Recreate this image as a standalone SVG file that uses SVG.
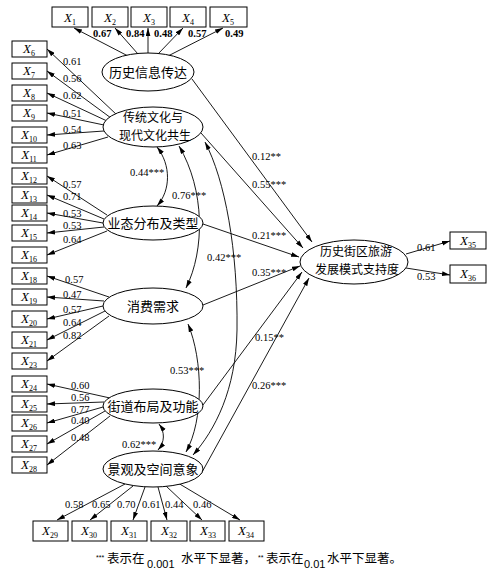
<svg xmlns="http://www.w3.org/2000/svg" width="491" height="571" viewBox="0 0 491 571">
<style>
.bx{fill:#fff;stroke:#000;stroke-width:1}
.el{fill:#fff;stroke:#000;stroke-width:1}
.x{font-family:"Liberation Serif",serif;font-style:italic;font-size:13px;text-anchor:middle}
.sub{font-size:8px;font-style:normal}
.cn{font-family:"Noto Sans CJK SC",sans-serif;font-size:13px;text-anchor:middle}
.cn2{font-family:"Noto Sans CJK SC",sans-serif;font-size:12px;text-anchor:middle}
.n{font-family:"Liberation Serif",serif;font-size:10.5px}
.nb{font-family:"Liberation Serif",serif;font-size:10.5px;font-weight:bold}
.ft{font-family:"Noto Sans CJK SC",sans-serif;font-size:12.5px}
.fn{font-family:"Liberation Sans",sans-serif;font-size:11px}
.st{font-family:"Liberation Sans",sans-serif;font-size:7px}
#conn path,#conn line{fill:none;stroke:#000;stroke-width:0.9}
</style>
<defs>
<marker id="ah" viewBox="0 0 10 6" refX="10" refY="3" markerWidth="8" markerHeight="5" orient="auto-start-reverse" markerUnits="userSpaceOnUse"><path d="M0,0 L10,3 L0,6 z" fill="#000"/></marker>
</defs>
<g id="conn">
<line x1="128" y1="56" x2="74" y2="28" marker-end="url(#ah)"/>
<line x1="138" y1="54" x2="115" y2="28" marker-end="url(#ah)"/>
<line x1="148" y1="53" x2="148" y2="28" marker-end="url(#ah)"/>
<line x1="158" y1="54" x2="183" y2="28" marker-end="url(#ah)"/>
<line x1="168" y1="56" x2="223" y2="28" marker-end="url(#ah)"/>
<line x1="117" y1="115" x2="47" y2="49" marker-end="url(#ah)"/>
<line x1="111" y1="118" x2="47" y2="71" marker-end="url(#ah)"/>
<line x1="107" y1="121" x2="47" y2="93" marker-end="url(#ah)"/>
<line x1="104" y1="125" x2="47" y2="113" marker-end="url(#ah)"/>
<line x1="104" y1="131" x2="47" y2="135" marker-end="url(#ah)"/>
<line x1="108" y1="137" x2="47" y2="155" marker-end="url(#ah)"/>
<line x1="107" y1="215" x2="47" y2="176" marker-end="url(#ah)"/>
<line x1="104" y1="219" x2="47" y2="195" marker-end="url(#ah)"/>
<line x1="103" y1="223" x2="47" y2="213" marker-end="url(#ah)"/>
<line x1="104" y1="227" x2="47" y2="233" marker-end="url(#ah)"/>
<line x1="107" y1="231" x2="47" y2="255" marker-end="url(#ah)"/>
<line x1="109" y1="297" x2="47" y2="276" marker-end="url(#ah)"/>
<line x1="104" y1="301" x2="47" y2="297" marker-end="url(#ah)"/>
<line x1="103" y1="306" x2="47" y2="319" marker-end="url(#ah)"/>
<line x1="105" y1="311" x2="47" y2="340" marker-end="url(#ah)"/>
<line x1="109" y1="316" x2="47" y2="361" marker-end="url(#ah)"/>
<line x1="110" y1="398" x2="47" y2="384" marker-end="url(#ah)"/>
<line x1="104" y1="402" x2="47" y2="404" marker-end="url(#ah)"/>
<line x1="103" y1="407" x2="47" y2="423" marker-end="url(#ah)"/>
<line x1="105" y1="411" x2="47" y2="444" marker-end="url(#ah)"/>
<line x1="110" y1="416" x2="47" y2="465" marker-end="url(#ah)"/>
<line x1="125" y1="484" x2="57" y2="520" marker-end="url(#ah)"/>
<line x1="133" y1="486" x2="90" y2="520" marker-end="url(#ah)"/>
<line x1="145" y1="487" x2="133" y2="520" marker-end="url(#ah)"/>
<line x1="158" y1="487" x2="167" y2="520" marker-end="url(#ah)"/>
<line x1="166" y1="486" x2="202" y2="520" marker-end="url(#ah)"/>
<line x1="178" y1="483" x2="240" y2="520" marker-end="url(#ah)"/>
<line x1="406" y1="254" x2="450" y2="241" marker-end="url(#ah)"/>
<line x1="406" y1="268" x2="450" y2="275" marker-end="url(#ah)"/>
<line x1="192" y1="79" x2="312" y2="242" marker-end="url(#ah)"/>
<line x1="201" y1="133" x2="303" y2="248" marker-end="url(#ah)"/>
<line x1="203" y1="224" x2="299" y2="257" marker-end="url(#ah)"/>
<line x1="203" y1="305" x2="300" y2="266" marker-end="url(#ah)"/>
<line x1="203" y1="405" x2="302" y2="272" marker-end="url(#ah)"/>
<line x1="201" y1="474" x2="309" y2="278" marker-end="url(#ah)"/>
<path d="M157,147 C171,165 171,190 157,206" marker-start="url(#ah)" marker-end="url(#ah)"/>
<path d="M179,146 C205,190 205,250 186,288" marker-start="url(#ah)" marker-end="url(#ah)"/>
<path d="M205,142 C225,180 238,250 237,330 C236,390 215,430 193,455" marker-start="url(#ah)" marker-end="url(#ah)"/>
<path d="M188,324 C203,360 204,420 186,452" marker-start="url(#ah)" marker-end="url(#ah)"/>
<path d="M159,424 C165,432 165,442 158,450" marker-start="url(#ah)" marker-end="url(#ah)"/>
</g>
<g id="labels">
<text class="nb" x="93" y="37">0.67</text>
<text class="nb" x="126" y="37">0.84</text>
<text class="nb" x="154" y="37">0.48</text>
<text class="nb" x="188" y="37">0.57</text>
<text class="nb" x="225" y="37">0.49</text>
<text class="n" x="63" y="65">0.61</text>
<text class="n" x="63" y="82">0.56</text>
<text class="n" x="63" y="99">0.62</text>
<text class="n" x="63" y="117">0.51</text>
<text class="n" x="63" y="133">0.54</text>
<text class="n" x="63" y="149">0.63</text>
<text class="n" x="63" y="188">0.57</text>
<text class="n" x="63" y="200">0.71</text>
<text class="n" x="63" y="217">0.53</text>
<text class="n" x="63" y="229">0.53</text>
<text class="n" x="63" y="243">0.64</text>
<text class="n" x="65" y="283">0.57</text>
<text class="n" x="63" y="298">0.47</text>
<text class="n" x="63" y="313">0.57</text>
<text class="n" x="63" y="326">0.64</text>
<text class="n" x="63" y="339">0.82</text>
<text class="n" x="71" y="389">0.60</text>
<text class="n" x="71" y="401">0.56</text>
<text class="n" x="71" y="413">0.77</text>
<text class="n" x="71" y="424">0.40</text>
<text class="n" x="71" y="441">0.48</text>
<text class="n" x="65" y="508">0.58</text>
<text class="n" x="92" y="508">0.65</text>
<text class="n" x="117" y="508">0.70</text>
<text class="n" x="142" y="508">0.61</text>
<text class="n" x="165" y="508">0.44</text>
<text class="n" x="193" y="508">0.46</text>
<text class="n" x="417" y="251">0.61</text>
<text class="n" x="417" y="280">0.53</text>
<text class="n" x="252" y="160">0.12**</text>
<text class="n" x="252" y="188">0.55***</text>
<text class="n" x="252" y="239">0.21***</text>
<text class="n" x="252" y="276">0.35***</text>
<text class="n" x="255" y="341">0.15**</text>
<text class="n" x="252" y="389">0.26***</text>
<text class="n" x="130" y="176">0.44***</text>
<text class="n" x="172" y="199">0.76***</text>
<text class="n" x="207" y="261">0.42***</text>
<text class="n" x="170" y="374">0.53***</text>
<text class="n" x="122" y="448">0.62***</text>
</g>
<g id="X1"><rect class="bx" x="52" y="7" width="36" height="20"/><text class="x" x="70" y="22">X<tspan class="sub" dy="3">1</tspan></text></g>
<g id="X2"><rect class="bx" x="92" y="7" width="36" height="20"/><text class="x" x="110" y="22">X<tspan class="sub" dy="3">2</tspan></text></g>
<g id="X3"><rect class="bx" x="131" y="7" width="36" height="20"/><text class="x" x="149" y="22">X<tspan class="sub" dy="3">3</tspan></text></g>
<g id="X4"><rect class="bx" x="170" y="7" width="36" height="20"/><text class="x" x="188" y="22">X<tspan class="sub" dy="3">4</tspan></text></g>
<g id="X5"><rect class="bx" x="210" y="7" width="37" height="20"/><text class="x" x="228" y="22">X<tspan class="sub" dy="3">5</tspan></text></g>
<g id="X6"><rect class="bx" x="12" y="41" width="35" height="16"/><text class="x" x="29" y="53">X<tspan class="sub" dy="3">6</tspan></text></g>
<g id="X7"><rect class="bx" x="12" y="63" width="35" height="16"/><text class="x" x="29" y="75">X<tspan class="sub" dy="3">7</tspan></text></g>
<g id="X8"><rect class="bx" x="12" y="85" width="35" height="16"/><text class="x" x="29" y="97">X<tspan class="sub" dy="3">8</tspan></text></g>
<g id="X9"><rect class="bx" x="12" y="105" width="35" height="16"/><text class="x" x="29" y="117">X<tspan class="sub" dy="3">9</tspan></text></g>
<g id="X10"><rect class="bx" x="12" y="127" width="35" height="16"/><text class="x" x="29" y="139">X<tspan class="sub" dy="3">10</tspan></text></g>
<g id="X11"><rect class="bx" x="12" y="147" width="35" height="16"/><text class="x" x="29" y="159">X<tspan class="sub" dy="3">11</tspan></text></g>
<g id="X12"><rect class="bx" x="12" y="168" width="35" height="16"/><text class="x" x="29" y="180">X<tspan class="sub" dy="3">12</tspan></text></g>
<g id="X13"><rect class="bx" x="12" y="187" width="35" height="16"/><text class="x" x="29" y="199">X<tspan class="sub" dy="3">13</tspan></text></g>
<g id="X14"><rect class="bx" x="12" y="205" width="35" height="16"/><text class="x" x="29" y="217">X<tspan class="sub" dy="3">14</tspan></text></g>
<g id="X15"><rect class="bx" x="12" y="225" width="35" height="16"/><text class="x" x="29" y="237">X<tspan class="sub" dy="3">15</tspan></text></g>
<g id="X16"><rect class="bx" x="12" y="247" width="35" height="16"/><text class="x" x="29" y="259">X<tspan class="sub" dy="3">16</tspan></text></g>
<g id="X18"><rect class="bx" x="12" y="268" width="35" height="16"/><text class="x" x="29" y="280">X<tspan class="sub" dy="3">18</tspan></text></g>
<g id="X19"><rect class="bx" x="12" y="289" width="35" height="16"/><text class="x" x="29" y="301">X<tspan class="sub" dy="3">19</tspan></text></g>
<g id="X20"><rect class="bx" x="12" y="311" width="35" height="16"/><text class="x" x="29" y="323">X<tspan class="sub" dy="3">20</tspan></text></g>
<g id="X21"><rect class="bx" x="12" y="332" width="35" height="16"/><text class="x" x="29" y="344">X<tspan class="sub" dy="3">21</tspan></text></g>
<g id="X23"><rect class="bx" x="12" y="353" width="35" height="16"/><text class="x" x="29" y="365">X<tspan class="sub" dy="3">23</tspan></text></g>
<g id="X24"><rect class="bx" x="12" y="376" width="35" height="16"/><text class="x" x="29" y="388">X<tspan class="sub" dy="3">24</tspan></text></g>
<g id="X25"><rect class="bx" x="12" y="396" width="35" height="16"/><text class="x" x="29" y="408">X<tspan class="sub" dy="3">25</tspan></text></g>
<g id="X26"><rect class="bx" x="12" y="415" width="35" height="16"/><text class="x" x="29" y="427">X<tspan class="sub" dy="3">26</tspan></text></g>
<g id="X27"><rect class="bx" x="12" y="436" width="35" height="16"/><text class="x" x="29" y="448">X<tspan class="sub" dy="3">27</tspan></text></g>
<g id="X28"><rect class="bx" x="12" y="457" width="35" height="16"/><text class="x" x="29" y="469">X<tspan class="sub" dy="3">28</tspan></text></g>
<g id="X29"><rect class="bx" x="33" y="521" width="35" height="20"/><text class="x" x="50" y="535">X<tspan class="sub" dy="3">29</tspan></text></g>
<g id="X30"><rect class="bx" x="72" y="521" width="35" height="20"/><text class="x" x="89" y="535">X<tspan class="sub" dy="3">30</tspan></text></g>
<g id="X31"><rect class="bx" x="111" y="521" width="36" height="20"/><text class="x" x="129" y="535">X<tspan class="sub" dy="3">31</tspan></text></g>
<g id="X32"><rect class="bx" x="151" y="521" width="36" height="20"/><text class="x" x="169" y="535">X<tspan class="sub" dy="3">32</tspan></text></g>
<g id="X33"><rect class="bx" x="190" y="521" width="35" height="20"/><text class="x" x="208" y="535">X<tspan class="sub" dy="3">33</tspan></text></g>
<g id="X34"><rect class="bx" x="229" y="521" width="35" height="20"/><text class="x" x="246" y="535">X<tspan class="sub" dy="3">34</tspan></text></g>
<g id="X35"><rect class="bx" x="450" y="232" width="36" height="17"/><text class="x" x="468" y="245">X<tspan class="sub" dy="3">35</tspan></text></g>
<g id="X36"><rect class="bx" x="450" y="265" width="36" height="18"/><text class="x" x="468" y="278">X<tspan class="sub" dy="3">36</tspan></text></g>
<g id="F1"><ellipse class="el" cx="148" cy="72" rx="46" ry="19"/><text class="cn" x="148" y="77">历史信息传达</text></g>
<g id="F2"><ellipse class="el" cx="153" cy="127" rx="50" ry="20"/><text class="cn2" x="153" y="122">传统文化与</text><text class="cn2" x="155" y="140">现代文化共生</text></g>
<g id="F3"><ellipse class="el" cx="153" cy="223" rx="50" ry="17"/><text class="cn" x="153" y="228">业态分布及类型</text></g>
<g id="F4"><ellipse class="el" cx="153" cy="306" rx="50" ry="18"/><text class="cn" x="153" y="311">消费需求</text></g>
<g id="F5"><ellipse class="el" cx="153" cy="406" rx="50" ry="17"/><text class="cn" x="153" y="411">街道布局及功能</text></g>
<g id="F6"><ellipse class="el" cx="153" cy="469" rx="50" ry="18"/><text class="cn" x="153" y="474">景观及空间意象</text></g>
<g id="Y"><ellipse class="el" cx="354" cy="262" rx="54" ry="22"/><text class="cn2" x="356" y="256">历史街区旅游</text><text class="cn2" x="357" y="274">发展模式支持度</text></g>
<g id="note">
<text class="st" x="96" y="560">***</text>
<text class="ft" x="107" y="563">表示在</text>
<text class="fn" x="147" y="568">0.001</text>
<text class="ft" x="181" y="563">水平下显著，</text>
<text class="st" x="258" y="560">**</text>
<text class="ft" x="266" y="563">表示在</text>
<text class="fn" x="304" y="568">0.01</text>
<text class="ft" x="327" y="563">水平下显著。</text>
</g>
</svg>
